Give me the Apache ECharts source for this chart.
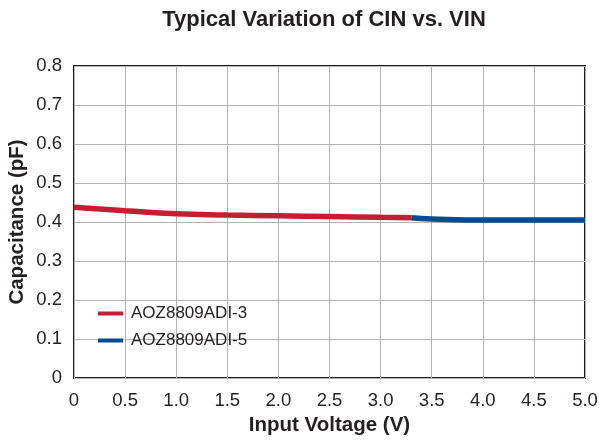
<!DOCTYPE html>
<html><head><meta charset="utf-8">
<script src="https://cdn.jsdelivr.net/npm/echarts@6/dist/echarts.min.js"></script>
<style>html,body{margin:0;padding:0;background:#fff}#c{width:599px;height:440px}</style>
</head><body><div id="c"></div>
<script>
const titleText = 'Typical Variation of CIN vs. VIN';
const xName = 'Input Voltage (V)';
const yName = 'Capacitance (pF)';
const seriesNames = ['AOZ8809ADI-3', 'AOZ8809ADI-5'];
const vin3 = [0, 0.5, 1.0, 1.5, 2.0, 2.5, 3.0, 3.3];
const cin3 = [0.438, 0.429, 0.421, 0.418, 0.416, 0.414, 0.412, 0.411];
const vin5 = [3.3, 3.5, 4.0, 4.5, 5.0];
const cin5 = [0.411, 0.408, 0.405, 0.405, 0.405];
const colors = ['#c21f32', '#004b93'];

const fmt = v => v === 0 ? '0' : v.toFixed(1);
const font = 'Liberation Sans, Arial, sans-serif';
const chart = echarts.init(document.getElementById('c'), null, {renderer: 'canvas'});
chart.setOption({
  animation: false,
  title: {text: titleText, left: 324, top: 9, padding: 0, textAlign: 'center',
    textStyle: {fontFamily: font, fontSize: 22, fontWeight: 'bold', color: '#231f20'}},
  grid: {left: 74, right: 14, top: 66, bottom: 62, containLabel: false, outerBoundsMode: 'none',
    show: true, borderColor: '#231f20', borderWidth: 2},
  legend: {orient: 'vertical', left: 93, top: 300, itemWidth: 25, itemHeight: 4, itemGap: 10,
    icon: 'rect', data: seriesNames,
    textStyle: {fontFamily: font, fontSize: 17, lineHeight: 17, color: '#231f20', padding: [0,0,0,3]}},
  xAxis: {type: 'value', min: 0, max: 5, interval: 0.5,
    name: xName, nameLocation: 'middle', nameGap: 37, nameMoveOverlap: false,
    nameTextStyle: {fontFamily: font, fontSize: 20.5, fontWeight: 'bold', color: '#231f20'},
    axisLine: {show: false}, axisTick: {show: false},
    axisLabel: {formatter: fmt, fontFamily: font, fontSize: 18.5, color: '#231f20', margin: 13},
    splitLine: {show: true, lineStyle: {color: '#b4b4b4', width: 1}}},
  yAxis: {type: 'value', min: 0, max: 0.8, interval: 0.1,
    name: yName, nameLocation: 'middle', nameGap: 46, nameRotate: 90, nameMoveOverlap: false,
    nameTextStyle: {fontFamily: font, fontSize: 20.5, fontWeight: 'bold', color: '#231f20'},
    axisLine: {show: false}, axisTick: {show: false},
    axisLabel: {formatter: fmt, fontFamily: font, fontSize: 18.5, color: '#231f20', margin: 12},
    splitLine: {show: true, lineStyle: {color: '#b4b4b4', width: 1}}},
  series: [
    {name: seriesNames[0], type: 'line', smooth: true, symbol: 'none', color: colors[0],
      lineStyle: {width: 5.5, color: colors[0]}, data: vin3.map((x, i) => [x, cin3[i]])},
    {name: seriesNames[1], type: 'line', smooth: true, symbol: 'none', color: colors[1],
      lineStyle: {width: 5.5, color: colors[1]}, data: vin5.map((x, i) => [x, cin5[i]])}
  ]
});
</script></body></html>
